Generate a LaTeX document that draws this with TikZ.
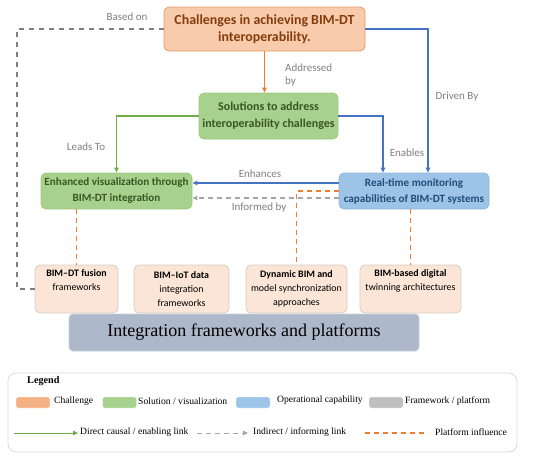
\documentclass[tikz,border=0pt]{standalone}
\usepackage{fontspec}
\setmainfont{Liberation Serif}
\newfontfamily\calfont[Ligatures=TeX]{Carlito}
\usetikzlibrary{arrows.meta,calc}
\definecolor{chfill}{HTML}{F8CBAD}
\definecolor{chdraw}{HTML}{E59A65}
\definecolor{chtext}{HTML}{843C0C}
\definecolor{grfill}{HTML}{A9D18E}
\definecolor{grdraw}{HTML}{9CCB7E}
\definecolor{grtext}{HTML}{385723}
\definecolor{blfill}{HTML}{9DC3E6}
\definecolor{bldraw}{HTML}{8FB6E0}
\definecolor{bltext}{HTML}{1F4E79}
\definecolor{pcfill}{HTML}{FBE5D6}
\definecolor{pcdraw}{HTML}{D5CCC4}
\definecolor{igfill}{HTML}{ADB9CA}
\definecolor{igdraw}{HTML}{C9D0DA}
\definecolor{acor}{HTML}{ED7D31}
\definecolor{acbl}{HTML}{4472C4}
\definecolor{acgr}{HTML}{70AD47}
\definecolor{acgy}{HTML}{A6A6A6}
\definecolor{acdg}{HTML}{7F7F7F}
\definecolor{lbl}{HTML}{7F7F7F}
\definecolor{lgorange}{HTML}{F4B183}
\definecolor{lggrey}{HTML}{BFBFBF}
\tikzset{
  basebox/.style={rounded corners=5pt, line width=0.8pt, align=center, inner sep=1pt},
  chbox/.style={basebox, fill=chfill, draw=chdraw, text=chtext, font=\calfont\bfseries\fontsize{13.9}{17}\selectfont},
  grbox/.style={basebox, fill=grfill, draw=grdraw, text=grtext, font=\calfont\bfseries\fontsize{11.1}{16}\selectfont},
  solbox/.style={basebox, fill=grfill, draw=grdraw, text=grtext, font=\calfont\bfseries\fontsize{12}{17}\selectfont},
  blbox/.style={basebox, fill=blfill, draw=bldraw, text=bltext, font=\calfont\bfseries\fontsize{11.1}{16}\selectfont},
  pcbox/.style={basebox, fill=pcfill, draw=pcdraw, text=black, font=\calfont\fontsize{9.9}{14}\selectfont, anchor=center},
  igbox/.style={basebox, rounded corners=4pt, fill=igfill, draw=igdraw, font=\fontsize{18}{21}\selectfont},
  lab/.style={text=lbl, font=\calfont\fontsize{11}{13}\selectfont, inner sep=0pt},
  tip/.style={-{Triangle[length=5pt,width=4.5pt]}},
  orarrow/.style={tip, draw=acor, line width=1pt},
  blarrow/.style={tip, draw=acbl, line width=1.1pt},
  grarrow/.style={tip, draw=acgr, line width=1.1pt},
  gyarrow/.style={tip, draw=acgy, line width=1.1pt, dash pattern=on 5pt off 4pt},
  basedline/.style={draw=acdg, line width=1.1pt, dash pattern=on 5pt off 5pt},
  platline/.style={draw=acor, line width=1.1pt, dash pattern=on 5pt off 4pt},
  swatch/.style={rounded corners=2pt, minimum width=34pt, minimum height=11pt, inner sep=0pt, draw=white, line width=0.4pt},
  legtext/.style={font=\fontsize{9.6}{11}\selectfont, anchor=west, inner sep=0pt},
}
\begin{document}
\begin{tikzpicture}[x=1pt,y=-1pt]
\useasboundingbox (0,0) rectangle (550,458);
% main nodes
\node[chbox, minimum width=201pt, minimum height=44pt] (chal) at (264.5,29) {Challenges in achieving BIM-DT\\interoperability.};
\node[solbox, minimum width=139pt, minimum height=46pt] (sol) at (268.5,116) {Solutions to address\\interoperability challenges};
\node[grbox, minimum width=151pt, minimum height=36pt] (enh) at (116.5,191) {Enhanced visualization through\\BIM-DT integration};
\node[blbox, minimum width=150pt, minimum height=36pt] (rt) at (414,191) {Real-time monitoring\\capabilities of BIM-DT systems};
% bottom boxes
\node[pcbox, minimum width=83pt, minimum height=48pt] (b1) at (76.5,289) {\textbf{BIM–DT fusion}\\frameworks\\\strut};
\node[pcbox, minimum width=95pt, minimum height=48pt] (b2) at (181.5,289) {\textbf{BIM–IoT data}\\integration\\frameworks};
\node[pcbox, minimum width=101pt, minimum height=48pt] (b3) at (296.5,289) {\textbf{Dynamic BIM and}\\model synchronization\\approaches};
\node[pcbox, minimum width=101pt, minimum height=48pt] (b4) at (410.5,289) {\textbf{BIM-based digital}\\twinning architectures\\\strut};
\node[igbox, minimum width=350pt, minimum height=37pt] (ig) at (244,332.5) {Integration frameworks and platforms};
% connectors
\draw[orarrow] (chal.south) -- (chal.south |- sol.north);
\coordinate (bo) at (17,289);
\draw[basedline] (chal.west) -| (bo) -- (b1.west);
\draw[blarrow] (chal.east) -| ($(rt.north)+(14,0)$);
\draw[blarrow] (sol.east) -| ($(rt.north)+(-31,0)$);
\draw[grarrow] (sol.west) -| (enh.north);
\draw[blarrow] ($(rt.west)+(0,-8)$) -- ($(enh.east)+(0,-8)$);
\draw[gyarrow] ($(rt.west)+(0,7)$) -- ($(enh.east)+(0,7)$);
\draw[platline] (enh.south -| b1.north) -- (b1.north);
\draw[platline] ($(enh.south)+(55,0)$) -- ($(enh.south)+(55,0)$ |- b2.north);
\draw[platline] (rt.west) -| (b3.north);
\draw[platline] (rt.south -| b4.north) -- (b4.north);
% labels
\node[lab] (lbased) at (127,17) {Based on};
\node[lab, anchor=west, align=left] (laddr) at (285,75) {Addressed\\by};
\node[lab] (ldriven) at (457,97) {Driven By};
\node[lab] (lleads) at (86,147) {Leads To};
\node[lab] (lenables) at (407,153) {Enables};
\node[lab] (lenh) at (260,174) {Enhances};
\node[lab] (linf) at (259,208) {Informed by};
% legend
\node[draw=black!15, line width=0.8pt, rounded corners=8pt, minimum width=509pt, minimum height=79pt] (leg) at (262.5,412.5) {};
\node[font=\bfseries\fontsize{10.2}{11}\selectfont, anchor=west, inner sep=0pt] (legt) at (27,381) {Legend};
\node[swatch, fill=lgorange] (s1) at (33,402.5) {};
\node[legtext] (t1) at (54,401) {Challenge};
\node[swatch, fill=grfill] (s2) at (119.5,402.5) {};
\node[legtext] (t2) at (138,401) {Solution / visualization};
\node[swatch, fill=blfill] (s3) at (253,402.5) {};
\node[legtext] (t3) at (277,400) {Operational capability};
\node[swatch, fill=lggrey] (s4) at (386,402.5) {};
\node[legtext] (t4) at (405,401) {Framework / platform};
\coordinate (g1) at (14,433);
\node[legtext] (t5) at (80,432) {Direct causal / enabling link};
\draw[grarrow, line width=0.9pt] (g1) -- ($(t5.west)+(-2,1)$);
\coordinate (g2) at (197,433);
\node[legtext] (t6) at (253,432) {Indirect / informing link};
\draw[gyarrow, line width=0.9pt, dash pattern=on 5pt off 4pt] (g2) -- ($(t6.west)+(-5,1)$);
\coordinate (g3) at (365,433);
\coordinate (g4) at (425,433);
\draw[platline] (g3) -- (g4);
\node[legtext] (t7) at (435,432) {Platform influence};
\end{tikzpicture}
\end{document}
